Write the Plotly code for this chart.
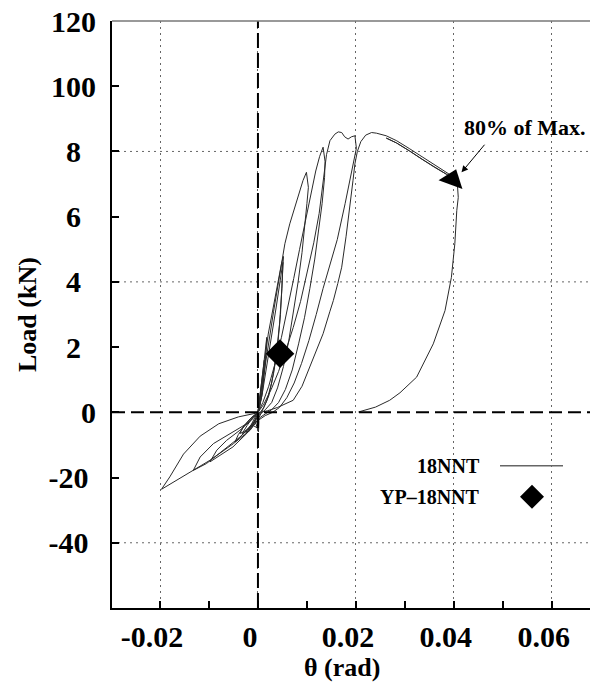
import plotly.graph_objects as go

# ---------------- data (theta in rad, load in chart units) ----------------
SMALL_THETA = [0, 0.0004, 0.0009, 0.0013, 0.0011, 0.0006, 0.0001, 0.0002, 0.0001, -0.0006, -0.0012, -0.0007, -0.0002, 0,
               0.0006, 0.0012, 0.0018, 0.0015, 0.0009, 0.0002, -0.0008, -0.0018, -0.0024, -0.0016, -0.0006, 0]
SMALL_LOAD = [0, 5, 11, 16, 10, 4, 0, -3, -6, -2.5, -4.5, -3, -1, 0,
              7, 15, 23, 15, 6, 0.5, -3, -5.5, -6.5, -4.5, -1.5, 0]

CYC_A_THETA = [0.0004, 0.0010, 0.0015, 0.0021, 0.0031, 0.0041, 0.0048, 0.0052, 0.0050, 0.0046, 0.0040, 0.0032,
               0.0022, 0.0012, 0.0005, -0.0005, -0.0015, -0.0027, -0.0037, -0.0029, -0.0016, -0.0005, 0]
CYC_A_LOAD = [4, 11, 18, 24, 32, 40.4, 45.5, 47.8, 40, 30, 20, 12,
              5, 1.5, 0, -2.5, -4.5, -5.8, -6.5, -4.2, -2, -0.6, 0]

CYC_A2_THETA = [0.0008, 0.0017, 0.0027, 0.0037, 0.0045, 0.0051, 0.0049, 0.0044, 0.0037, 0.0028, 0.0018, 0.0008,
                0.0001, 0.0001, -0.0010, -0.0022, -0.0032, -0.0022, -0.0010, 0]
CYC_A2_LOAD = [5, 13, 22, 32, 40, 46, 38, 27, 17, 9, 3.5, 0.5,
               -2, -5, -4, -5.8, -6.5, -4, -1.5, 0]

CYC_B_THETA = [0.0005, 0.0013, 0.0022, 0.0032, 0.0042, 0.0050, 0.0055, 0.0065, 0.0079, 0.0092, 0.0099, 0.0103,
               0.0100, 0.0096, 0.0090, 0.0082, 0.0073, 0.0063, 0.0052, 0.0040, 0.0028, 0.0015, 0.0005, -0.0008,
               -0.0018, -0.0032, -0.0047, -0.0040, -0.0026, -0.0012, 0]
CYC_B_LOAD = [5, 13, 22, 31, 40, 47, 51.7, 57.8, 64.9, 71.1, 73.6, 69,
              64, 57, 49, 40, 31, 22, 14, 7.5, 3, 0.8, -0.5, -2.8,
              -4.5, -7, -9.1, -6.8, -3.8, -1.4, 0]

CYC_C_THETA = [0.0010, 0.0022, 0.0035, 0.0048, 0.0061, 0.0073, 0.0085, 0.0097, 0.0108, 0.0118, 0.0126, 0.0131,
               0.0133, 0.0137, 0.0136, 0.0131, 0.0124, 0.0116, 0.0106, 0.0095, 0.0083, 0.0070, 0.0056, 0.0042,
               0.0028, 0.0015, 0.0005, -0.0003, -0.0023, -0.0051, -0.0078, -0.0098, -0.0084, -0.0064, -0.0037,
               -0.0010, 0]
CYC_C_LOAD = [3, 8, 15, 23, 32, 41, 50, 59, 67, 74, 78.5, 80.5,
              81.3, 77, 72, 64, 56, 47, 38, 29, 21, 13, 7, 3,
              0.8, -0.5, -1.5, -3, -6.5, -10.6, -13.2, -15.2, -11.6, -8.6, -5.5,
              -1.9, 0]

CYC_D_THETA = [0.0012, 0.0027, 0.0042, 0.0057, 0.0072, 0.0087, 0.0101, 0.0114, 0.0125, 0.0131, 0.0136, 0.0140,
               0.0147, 0.0157, 0.0164, 0.0171, 0.0177, 0.0184, 0.0191, 0.0198, 0.0201, 0.0192, 0.0178, 0.0162,
               0.0147, 0.0133, 0.0119, 0.0104, 0.0089, 0.0074, 0.0059, 0.0044, 0.0030, 0.0015, 0.0000, -0.0010,
               -0.0037, -0.0071, -0.0105, -0.0132, -0.0118, -0.0091, -0.0057, -0.0023, 0]
CYC_D_LOAD = [2.5, 7, 12.5, 19, 26, 34, 43, 52, 61, 69, 75, 79,
              83.3, 85.3, 86, 85.8, 84.5, 83.8, 84.5, 84.8, 81, 74, 64, 53,
              45.5, 38, 30, 22, 15, 9, 4.5, 1.5, 0, -1, -2.5, -3.5,
              -7.6, -11.6, -15.7, -17.8, -13.7, -9.6, -6.5, -3.5, 0]

CYC_N5_THETA = [-0.0002, -0.0016, -0.0050, -0.0098, -0.0132, -0.0166, -0.0197, -0.0180, -0.0152, -0.0118,
                -0.0080, -0.0040, 0]
CYC_N5_LOAD = [-2.5, -5.5, -9.6, -14.7, -17.8, -20.8, -23.6, -19.8, -12.8, -7.3,
               -3.5, -1.4, 0]

CYC_E_THETA = [0.0020, 0.0040, 0.0056, 0.0072, 0.0090, 0.0106, 0.0120, 0.0133, 0.0147, 0.0154, 0.0163, 0.0171,
               0.0180, 0.0188, 0.0194, 0.0198, 0.0203, 0.0210, 0.0220, 0.0232, 0.0242, 0.0262, 0.0283, 0.0310,
               0.0337, 0.0362, 0.0385, 0.0398, 0.0406,
               0.0398, 0.0385, 0.0360, 0.0335, 0.0310, 0.0283, 0.0262,
               0.0283, 0.0310, 0.0335, 0.0360, 0.0385, 0.0398, 0.0407,
               0.0409, 0.0406, 0.0402, 0.0395, 0.0382, 0.0358, 0.0324, 0.0290, 0.0269, 0.0240, 0.0205]
CYC_E_LOAD = [0.5, 1.5, 2.5, 3.7, 8, 13.9, 19, 24.1, 31, 34.3, 39.5, 44.5,
              54, 64.9, 71, 76.2, 80, 83, 85, 85.8, 85.6, 84.8, 83.3, 80.8,
              78.2, 75.8, 73.6, 72.3, 71.1,
              71.5, 73.0, 75.2, 77.6, 80.1, 82.6, 84.1,
              82.6, 80.1, 77.6, 75.2, 73.0, 71.5, 70.5,
              65.9, 61.9, 51.7, 41.4, 31.2, 21.0, 10.8, 6.0, 3.7, 1.6, 0.1]

YP_THETA = [0.0045]
YP_LOAD = [18.0]
MAX80_THETA = [0.0397]
MAX80_LOAD = [71.4]

X_TICKS = [-0.02, 0, 0.02, 0.04, 0.06]
X_LABELS = ["-0.02", "0", "0.02", "0.04", "0.06"]
X_MINOR = [-0.01, 0.01, 0.03, 0.05]
Y_TICKS = [-40, -20, 0, 20, 40, 60, 80, 100, 120]
Y_LABELS = ["-40\u00a0", "-20\u00a0", "0", "2\u00a0\u00a0", "4\u00a0\u00a0", "6\u00a0\u00a0", "8\u00a0\u00a0", "100", "120"]
Y_GRID = [-40, 40, 80]

theta = (SMALL_THETA + CYC_A_THETA + CYC_A2_THETA + CYC_B_THETA + CYC_C_THETA + CYC_D_THETA
         + CYC_N5_THETA + CYC_E_THETA)
load = (SMALL_LOAD + CYC_A_LOAD + CYC_A2_LOAD + CYC_B_LOAD + CYC_C_LOAD + CYC_D_LOAD
        + CYC_N5_LOAD + CYC_E_LOAD)

# ---------------- layout geometry ----------------
W, H = 590, 686
ML, MR, MT, MB = 112, 0, 21, 78
PW, PH = W - ML - MR, H - MT - MB


def px_x(px):
    return (px - ML) / PW


def px_y(py):
    return (H - MB - py) / PH


FONT = "Liberation Serif"

fig = go.Figure()
fig.add_trace(go.Scatter(x=theta, y=load, mode="lines",
                         line=dict(color="#2a2a2a", width=1), name="18NNT", hoverinfo="skip"))
fig.add_trace(go.Scatter(x=YP_THETA, y=YP_LOAD, mode="markers", name="YP\u201318NNT",
                         marker=dict(symbol="diamond", size=22, color="black")))
fig.add_trace(go.Scatter(x=MAX80_THETA, y=MAX80_LOAD, mode="markers", name="80%",
                         marker=dict(symbol="triangle-up", size=22, angle=20, color="black")))

fig.update_layout(
    width=W, height=H, margin=dict(l=ML, r=MR, t=MT, b=MB),
    plot_bgcolor="white", paper_bgcolor="white", showlegend=False,
    font=dict(family=FONT, color="black"),
)
fig.update_xaxes(
    range=[-0.0298, 0.0678], tickmode="array", tickvals=X_TICKS, ticktext=X_LABELS,
    showgrid=True, gridcolor="#666", griddash="2px,4px", gridwidth=1, zeroline=False,
    showline=True, linecolor="black", linewidth=2, ticks="inside", ticklen=7, tickwidth=1.5,
    tickcolor="black", tickfont=dict(size=30, family=FONT, weight="bold"),
    ticklabelshift=-8, ticklabelstandoff=1,
    minor=dict(tickmode="array", tickvals=X_MINOR, ticks="inside", ticklen=7, tickwidth=1.5,
               tickcolor="black", showgrid=False),
)
fig.update_yaxes(
    range=[-60, 120], tickmode="array", tickvals=Y_TICKS, ticktext=Y_LABELS,
    showgrid=False, zeroline=False, showline=True, linecolor="black", linewidth=2,
    ticks="inside", ticklen=7, tickwidth=1.5, tickcolor="black",
    tickfont=dict(size=30, family=FONT, weight="bold"), ticklabelstandoff=8,
)

# grid lines (y) and dashed zero axes
for gy in Y_GRID:
    fig.add_shape(type="line", xref="paper", x0=0, x1=1, yref="y", y0=gy, y1=gy, layer="below",
                  line=dict(color="#666", width=1, dash="2px,4px"))
fig.add_shape(type="line", xref="paper", x0=0, x1=1, yref="y", y0=0, y1=0,
              line=dict(color="black", width=2, dash="13px,6px"))
fig.add_shape(type="line", yref="paper", y0=0, y1=1, xref="x", x0=0, x1=0,
              line=dict(color="black", width=2, dash="15px,5px"))
fig.add_shape(type="line", xref="paper", x0=0, x1=1, yref="paper", y0=1, y1=1,
              line=dict(color="#777", width=1.5))

# axis titles
fig.add_annotation(text="\u03b8 (rad)", xref="paper", yref="paper", x=px_x(342), y=px_y(667),
                   showarrow=False, font=dict(size=26, family=FONT, weight="bold"),
                   xanchor="center", yanchor="middle")
fig.add_annotation(text="Load (kN)", xref="paper", yref="paper", x=px_x(28), y=px_y(315),
                   showarrow=False, textangle=-90, font=dict(size=26, family=FONT, weight="bold"),
                   xanchor="center", yanchor="middle")

# 80% of max annotation
fig.add_annotation(text="80% of Max.", x=0.04157, y=87.4, xref="x", yref="y", showarrow=False,
                   xanchor="left", yanchor="middle", font=dict(size=22, family=FONT, weight="bold"))
fig.add_annotation(text=" ", x=0.04157, y=73.6, xref="x", yref="y", showarrow=True,
                   ax=25, ay=-30, arrowhead=2, arrowsize=1.3, arrowwidth=1, arrowcolor="black",
                   font=dict(size=2))

# custom legend
fig.add_annotation(text="18NNT", xref="paper", yref="paper", x=px_x(482), y=px_y(465.7),
                   showarrow=False, xanchor="right", yanchor="middle",
                   font=dict(size=20, family=FONT, weight="bold"))
fig.add_annotation(text="YP\u201318NNT", xref="paper", yref="paper", x=px_x(482), y=px_y(496.7),
                   showarrow=False, xanchor="right", yanchor="middle",
                   font=dict(size=20, family=FONT, weight="bold"))
fig.add_shape(type="line", xref="paper", yref="paper", x0=px_x(500), x1=px_x(563),
              y0=px_y(465.7), y1=px_y(465.7), line=dict(color="#666", width=1.5))
cx, cy, r = 532, 496.7, 12
fig.add_shape(type="path", xref="paper", yref="paper",
              path=(f"M {px_x(cx)},{px_y(cy - r)} L {px_x(cx + r)},{px_y(cy)} "
                    f"L {px_x(cx)},{px_y(cy + r)} L {px_x(cx - r)},{px_y(cy)} Z"),
              fillcolor="black", line=dict(color="black", width=0))

fig.write_html("out.html")
